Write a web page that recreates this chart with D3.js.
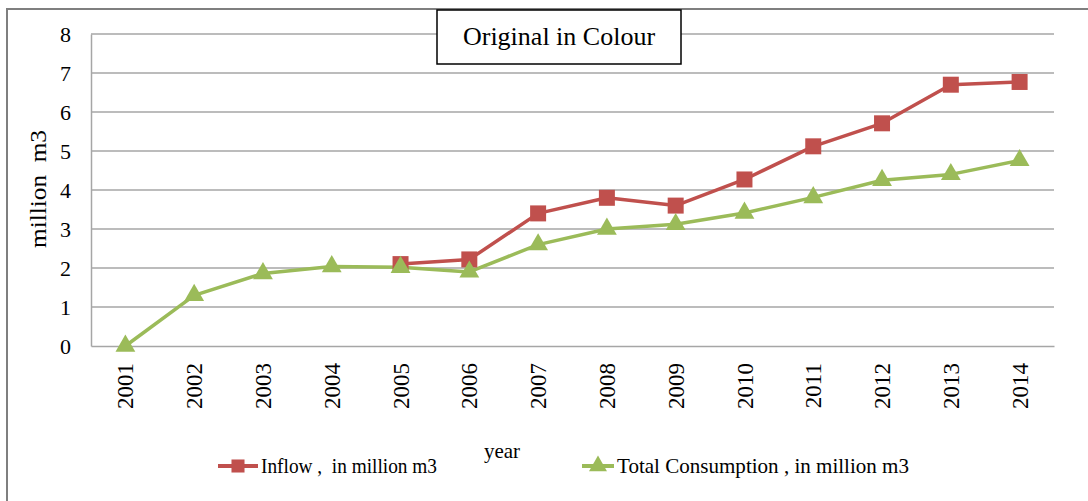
<!DOCTYPE html>
<html>
<head>
<meta charset="utf-8">
<script src="https://cdn.jsdelivr.net/npm/d3@7"></script>
<style>
  html, body { margin: 0; padding: 0; background: #fff; }
  svg { display: block; }
  text { font-family: "Liberation Serif", "Times New Roman", serif; fill: #000; white-space: pre; }
</style>
</head>
<body>
<svg id="chart" width="1088" height="501"></svg>
<script>
// Water balance series, million m3 per year
const years = ["2001","2002","2003","2004","2005","2006","2007","2008","2009","2010","2011","2012","2013","2014"];
const inflow = [null, null, null, null, 2.1, 2.22, 3.4, 3.8, 3.6, 4.27, 5.12, 5.71, 6.7, 6.77];
const consumption = [0, 1.3, 1.86, 2.04, 2.02, 1.9, 2.6, 3.0, 3.12, 3.41, 3.81, 4.25, 4.4, 4.76];
const yTicks = [0, 1, 2, 3, 4, 5, 6, 7, 8];

const seriesNames = ["Inflow ,  in million m3", "Total Consumption , in million m3"];
const red = "#C0504D", green = "#9BBB59", grid = "#A6A6A6";

const svg = d3.select("#chart");

// outer chart frame
svg.append("rect")
  .attr("x", 7).attr("y", 9).attr("width", 1100).attr("height", 520)
  .attr("fill", "none").attr("stroke", "#7f7f7f").attr("stroke-width", 2);

const plot = { left: 91, right: 1054, top: 34, bottom: 346 };

const x = d3.scaleBand().domain(years).range([plot.left, plot.right]);
const cx = d => x(d) + x.bandwidth() / 2;
const y = d3.scaleLinear().domain([0, 8]).range([plot.bottom, plot.top]);

// horizontal gridlines
svg.append("g").selectAll("line").data(yTicks.filter(t => t > 0)).join("line")
  .attr("x1", plot.left).attr("x2", plot.right)
  .attr("y1", d => y(d)).attr("y2", d => y(d))
  .attr("stroke", grid).attr("stroke-width", 1.5);

// value axis
const yAxis = svg.append("g")
  .attr("transform", `translate(${plot.left},0)`)
  .call(d3.axisLeft(y).tickValues(yTicks).tickSize(0).tickPadding(20).tickFormat(d3.format("d")));
yAxis.select(".domain").attr("stroke", grid).attr("stroke-width", 1.5);
yAxis.selectAll("text")
  .attr("font-size", 22).attr("font-family", "Liberation Serif, serif").attr("dy", "0.35em");

// category axis
const xAxis = svg.append("g")
  .attr("transform", `translate(0,${plot.bottom})`)
  .call(d3.axisBottom(x).tickSize(0).tickPadding(0));
xAxis.select(".domain").attr("stroke", grid).attr("stroke-width", 1.5);
xAxis.selectAll(".tick text")
  .attr("font-size", 23).attr("font-family", "Liberation Serif, serif")
  .attr("text-anchor", "end")
  .attr("transform", "rotate(-90)")
  .attr("x", -17).attr("y", 0).attr("dy", "0.35em");

// axis titles
svg.append("text")
  .attr("transform", `translate(46,189) rotate(-90)`)
  .attr("text-anchor", "middle")
  .attr("font-size", 23)
  .attr("textLength", 118).attr("lengthAdjust", "spacingAndGlyphs")
  .text("million  m3");

svg.append("text")
  .attr("x", 502).attr("y", 458)
  .attr("text-anchor", "middle").attr("font-size", 21)
  .text("year");

// series lines and markers
const line = d3.line()
  .defined(d => d.v !== null)
  .x(d => cx(d.year)).y(d => y(d.v));

const toPts = arr => years.map((yr, i) => ({ year: yr, v: arr[i] }));
const inflowPts = toPts(inflow);
const consPts = toPts(consumption);

svg.append("path").datum(inflowPts)
  .attr("d", line).attr("fill", "none").attr("stroke", red)
  .attr("stroke-width", 3.5).attr("stroke-linejoin", "round");

svg.append("path").datum(consPts)
  .attr("d", line).attr("fill", "none").attr("stroke", green)
  .attr("stroke-width", 3.5).attr("stroke-linejoin", "round");

const sq = d3.symbol().type(d3.symbolSquare).size(256);
const tri = d3.symbol().type(d3.symbolTriangle).size(170);

svg.append("g").selectAll("path").data(inflowPts.filter(d => d.v !== null)).join("path")
  .attr("d", sq)
  .attr("transform", d => `translate(${cx(d.year)},${y(d.v)})`)
  .attr("fill", red);

svg.append("g").selectAll("path").data(consPts).join("path")
  .attr("d", tri)
  .attr("transform", d => `translate(${cx(d.year)},${y(d.v)})`)
  .attr("fill", green);

// title box
svg.append("rect")
  .attr("x", 437).attr("y", 10).attr("width", 244).attr("height", 54)
  .attr("fill", "#fff").attr("stroke", "#000").attr("stroke-width", 1.5);
svg.append("text")
  .attr("x", 559).attr("y", 45)
  .attr("text-anchor", "middle").attr("font-size", 26)
  .text("Original in Colour");

// legend
const legend = [
  { name: seriesNames[0], color: red, x0: 218, tx: 261, tw: 176 },
  { name: seriesNames[1], color: green, x0: 582, tx: 617, tw: 292 }
];
const lg = svg.append("g").selectAll("g").data(legend).join("g");
lg.append("line")
  .attr("x1", d => d.x0).attr("x2", d => d.tx - 3)
  .attr("y1", 466).attr("y2", 466)
  .attr("stroke", d => d.color).attr("stroke-width", 4);
lg.append("path")
  .attr("d", (d, i) => i === 0 ? d3.symbol().type(d3.symbolSquare).size(170)() : d3.symbol().type(d3.symbolTriangle).size(140)())
  .attr("transform", d => `translate(${(d.x0 + d.tx - 3) / 2},466)`)
  .attr("fill", d => d.color);
lg.append("text")
  .attr("x", d => d.tx).attr("y", 473)
  .attr("font-size", 21)
  .attr("textLength", d => d.tw).attr("lengthAdjust", "spacingAndGlyphs")
  .text(d => d.name);
</script>
</body>
</html>
